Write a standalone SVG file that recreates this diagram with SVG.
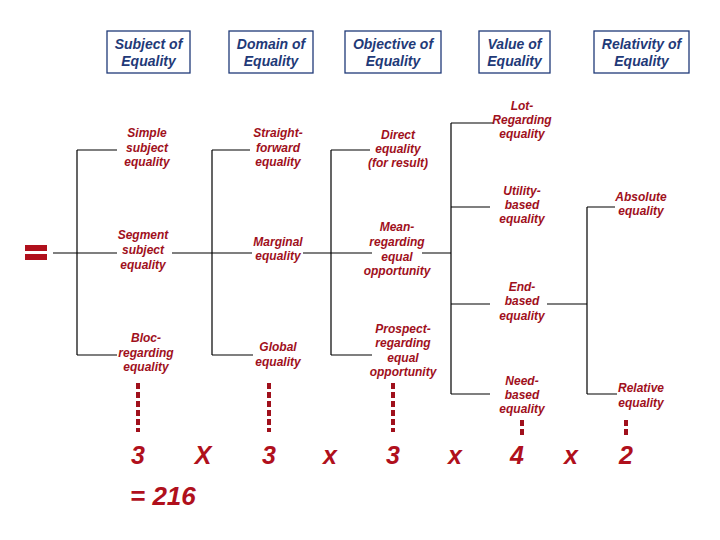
<svg xmlns="http://www.w3.org/2000/svg" width="720" height="540" viewBox="0 0 720 540">
<style>
.hd rect{fill:#fff;stroke:#1f3a78;stroke-width:1.3}
.hd text{font-family:"Liberation Sans",Arial,sans-serif;font-size:14px;font-weight:bold;font-style:italic;fill:#1f3a78;text-anchor:middle}
.lb text{font-family:"Liberation Sans",Arial,sans-serif;font-size:12px;font-weight:bold;font-style:italic;fill:#a0101c;text-anchor:middle}
.num{font-family:"Liberation Sans",Arial,sans-serif;font-size:25px;font-weight:bold;font-style:italic;fill:#b0101c;text-anchor:middle}
.con path{fill:none;stroke:#000;stroke-width:1.2}
.dash{fill:none;stroke:#a0101c;stroke-width:4;stroke-dasharray:6 3}
</style>
<rect width="720" height="540" fill="#fff"/>
<g class="con" id="connectors">
<path d="M53,253H117M77,150V355M77,150H117M77,355H117"/>
<path d="M172,253H252M212,150V355M212,150H250M212,355H253"/>
<path d="M303,253H372M331,150V355M331,150H370M331,355H372"/>
<path d="M422,253H451M451,123V394M451,123H493M451,207H490M451,304H490M451,394H490"/>
<path d="M547,304H587M587,207V394M587,207H615M587,394H617"/>
</g>
<g id="dashes">
<path class="dash" d="M138,383V432M269,383V432M393,383V432M522,420V437M626,420V437"/>
</g>
<g id="equals" fill="#b0101c">
<rect x="25" y="245" width="22" height="6"/>
<rect x="25" y="254" width="22" height="6"/>
</g>
<g class="hd" id="h-subject"><rect x="107" y="31" width="83" height="42"/><text x="148.5" y="49">Subject of</text><text x="148.5" y="66">Equality</text></g>
<g class="hd" id="h-domain"><rect x="229" y="31" width="84" height="42"/><text x="271" y="49">Domain of</text><text x="271" y="66">Equality</text></g>
<g class="hd" id="h-objective"><rect x="345" y="31" width="96" height="42"/><text x="393" y="49">Objective of</text><text x="393" y="66">Equality</text></g>
<g class="hd" id="h-value"><rect x="479" y="31" width="71" height="42"/><text x="514.5" y="49">Value of</text><text x="514.5" y="66">Equality</text></g>
<g class="hd" id="h-relativity"><rect x="594" y="31" width="95" height="42"/><text x="641.5" y="49">Relativity of</text><text x="641.5" y="66">Equality</text></g>
<g class="lb" id="n-simple"><text x="147" y="137">Simple</text><text x="147" y="152">subject</text><text x="147" y="166">equality</text></g>
<g class="lb" id="n-segment"><text x="143" y="239">Segment</text><text x="143" y="254">subject</text><text x="143" y="269">equality</text></g>
<g class="lb" id="n-bloc"><text x="146" y="342">Bloc-</text><text x="146" y="357">regarding</text><text x="146" y="371">equality</text></g>
<g class="lb" id="n-straight"><text x="278" y="137">Straight-</text><text x="278" y="152">forward</text><text x="278" y="166">equality</text></g>
<g class="lb" id="n-marginal"><text x="278" y="246">Marginal</text><text x="278" y="260">equality</text></g>
<g class="lb" id="n-global"><text x="278" y="351">Global</text><text x="278" y="366">equality</text></g>
<g class="lb" id="n-direct"><text x="398" y="139">Direct</text><text x="398" y="153">equality</text><text x="398" y="167">(for result)</text></g>
<g class="lb" id="n-mean"><text x="397" y="231">Mean-</text><text x="397" y="246">regarding</text><text x="397" y="261">equal</text><text x="397" y="275">opportunity</text></g>
<g class="lb" id="n-prospect"><text x="403" y="333">Prospect-</text><text x="403" y="347">regarding</text><text x="403" y="362">equal</text><text x="403" y="376">opportunity</text></g>
<g class="lb" id="n-lot"><text x="522" y="110">Lot-</text><text x="522" y="124">Regarding</text><text x="522" y="138">equality</text></g>
<g class="lb" id="n-utility"><text x="522" y="195">Utility-</text><text x="522" y="209">based</text><text x="522" y="223">equality</text></g>
<g class="lb" id="n-end"><text x="522" y="291">End-</text><text x="522" y="305">based</text><text x="522" y="320">equality</text></g>
<g class="lb" id="n-need"><text x="522" y="385">Need-</text><text x="522" y="399">based</text><text x="522" y="413">equality</text></g>
<g class="lb" id="n-absolute"><text x="641" y="201">Absolute</text><text x="641" y="215">equality</text></g>
<g class="lb" id="n-relative"><text x="641" y="392">Relative</text><text x="641" y="407">equality</text></g>
<g id="formula">
<text class="num" x="138" y="464">3</text>
<text class="num" x="203" y="464">X</text>
<text class="num" x="269" y="464">3</text>
<text class="num" x="330" y="464">x</text>
<text class="num" x="393" y="464">3</text>
<text class="num" x="455" y="464">x</text>
<text class="num" x="517" y="464">4</text>
<text class="num" x="571" y="464">x</text>
<text class="num" x="626" y="464">2</text>
<text class="num" x="130" y="505" style="text-anchor:start;font-size:26px">= 216</text>
</g>
</svg>
